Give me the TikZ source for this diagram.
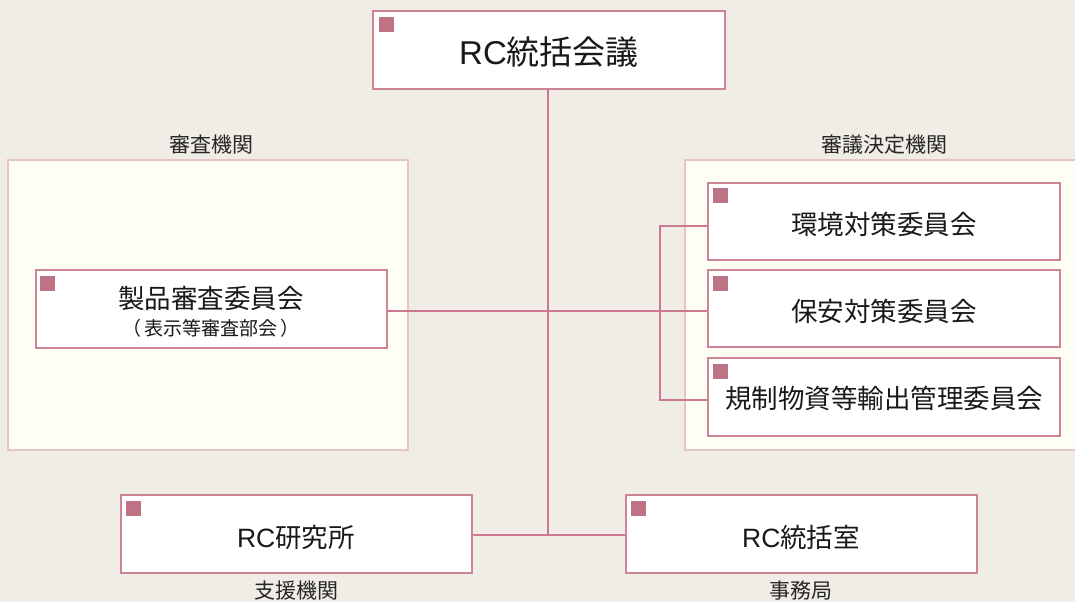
\documentclass[tikz,border=0pt]{standalone}
\usepackage{fontspec}
\setmainfont{Noto Sans CJK JP}
\newfontfamily\lat{Liberation Sans}
\definecolor{bg}{HTML}{F0ECE6}
\definecolor{panelfill}{HTML}{FFFEF5}
\definecolor{panelline}{HTML}{E6C4C4}
\definecolor{boxline}{HTML}{CC8496}
\definecolor{marker}{HTML}{C07384}
\definecolor{conn}{HTML}{CC7890}
\tikzset{
  panel/.style={draw=panelline, fill=panelfill, line width=1.2pt},
  orgbox/.style={draw=boxline, fill=white, line width=1.6pt},
  mk/.style={fill=marker},
  conline/.style={draw=conn, line width=1.3pt},
  lbl/.style={font=\fontsize{21}{24}\selectfont, text=black!85},
  btxt/.style={font=\fontsize{26.5}{30}\selectfont, text=black!90}
}
\begin{document}
\begin{tikzpicture}[x=1pt,y=-1pt]
\useasboundingbox (0,0) rectangle (1075,602);
\fill[bg] (0,0) rectangle (1075,602);
% panels
\draw[panel] (8,160) rectangle (408,450);
\draw[panel] (685,160) rectangle (1080,450);
\node[lbl] (lblL) at (211,145) {審査機関};
\node[lbl] (lblR) at (884,145) {審議決定機関};
\node[lbl] (lblB1) at (296,591) {支援機関};
\node[lbl] (lblB2) at (801,591) {事務局};
% boxes as coordinates
\coordinate (topNW) at (373,11); \coordinate (topSE) at (725,89);
\coordinate (lNW) at (36,270); \coordinate (lSE) at (387,348);
\coordinate (r1NW) at (708,183); \coordinate (r1SE) at (1060,260);
\coordinate (r2NW) at (708,270); \coordinate (r2SE) at (1060,347);
\coordinate (r3NW) at (708,358); \coordinate (r3SE) at (1060,436);
\coordinate (b1NW) at (121,495); \coordinate (b1SE) at (472,573);
\coordinate (b2NW) at (626,495); \coordinate (b2SE) at (977,573);
% connectors
\coordinate (hub) at (548,311);
\coordinate (bhub) at (548,535);
\coordinate (brk) at (660,311);
\coordinate (brkT) at (660,226);
\coordinate (brkB) at (660,400);
\draw[conline] (548,89) -- (bhub);
\draw[conline] (387,311) -- (708,311);
\draw[conline] (708,226) -- (brkT) -- (brkB) -- (708,400);
\draw[conline] (472,535) -- (626,535);
% boxes
\draw[orgbox, line width=2.2pt] (topNW) rectangle (topSE);
\draw[orgbox] (lNW) rectangle (lSE);
\draw[orgbox] (r1NW) rectangle (r1SE);
\draw[orgbox] (r2NW) rectangle (r2SE);
\draw[orgbox] (r3NW) rectangle (r3SE);
\draw[orgbox] (b1NW) rectangle (b1SE);
\draw[orgbox] (b2NW) rectangle (b2SE);
% markers
\foreach \p in {(379,17),(40,276),(713,188),(713,276),(713,364),(126,501),(631,501)}
  \fill[mk] \p rectangle ++(15,15);
% texts
\node[font=\fontsize{33}{38}\selectfont, text=black!90] (top) at (549,52) {{\lat RC}統括会議};
\node[btxt] (l1) at (211,298) {製品審査委員会};
\node[font=\fontsize{19}{22}\selectfont, text=black!90] (l2) at (211,328) {（\,表示等審査部会\,）};
\node[btxt] (r1) at (884,224) {環境対策委員会};
\node[btxt] (r2) at (884,311) {保安対策委員会};
\node[btxt] (r3) at (884,398) {規制物資等輸出管理委員会};
\node[btxt] (b1) at (296,537) {{\lat RC}研究所};
\node[btxt] (b2) at (801,537) {{\lat RC}統括室};
\end{tikzpicture}
\end{document}
